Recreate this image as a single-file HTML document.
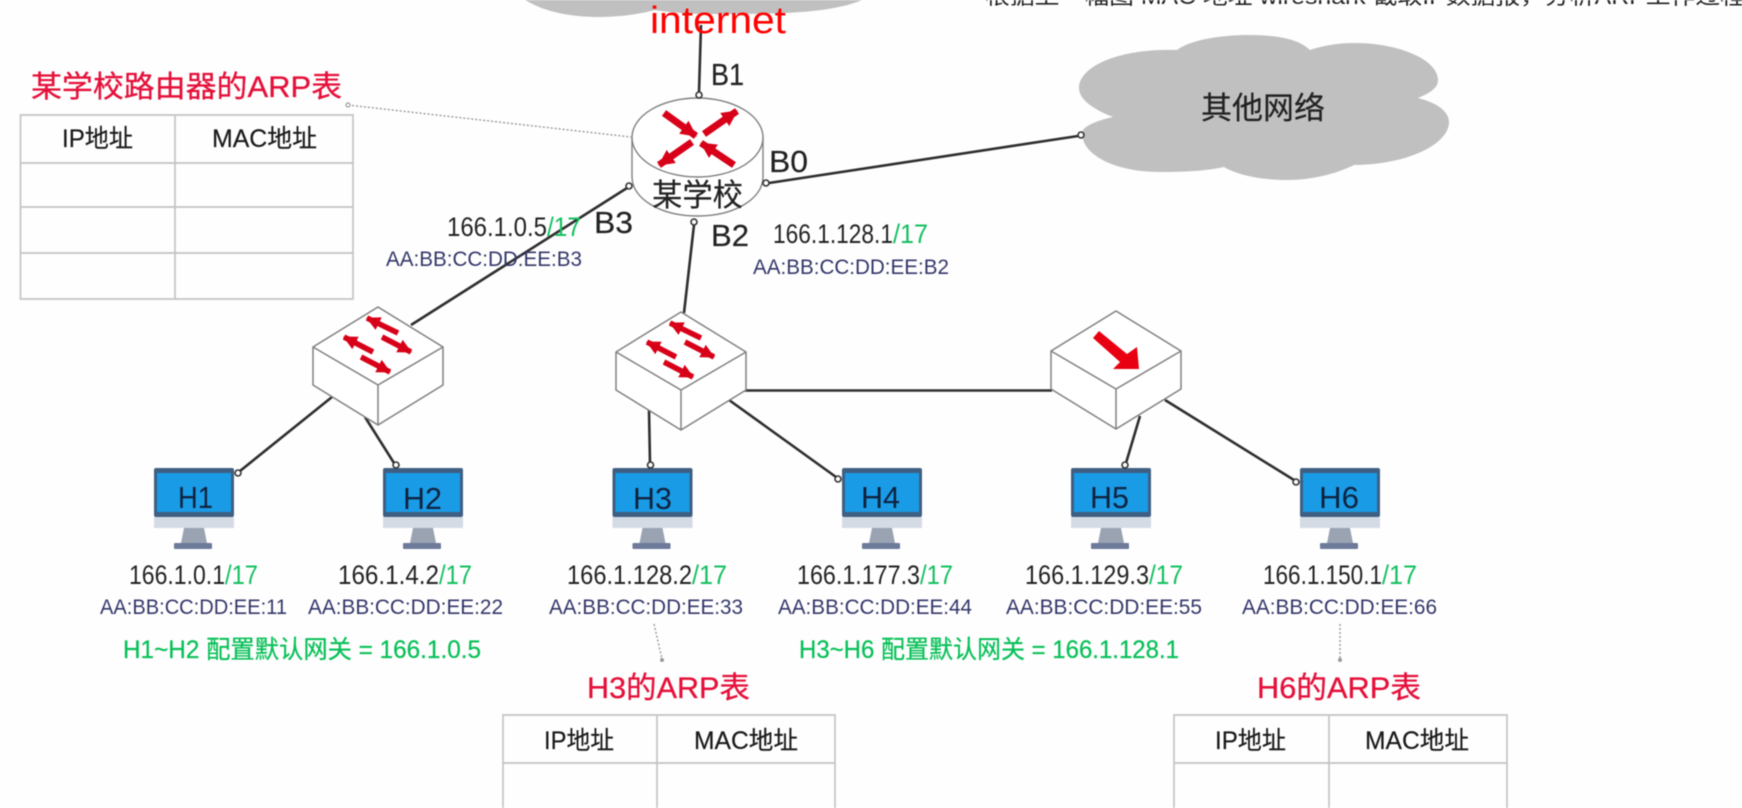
<!DOCTYPE html>
<html lang="zh">
<head>
<meta charset="utf-8">
<title>ARP diagram</title>
<style>
html,body{margin:0;padding:0;background:#fff;width:1742px;height:808px;overflow:hidden}
svg{display:block;filter:blur(.65px)}
text{font-family:"Liberation Sans","Noto Sans CJK SC",sans-serif}
.ip{font-size:27px;fill:#222}
.g{font-size:27px;fill:#14c060}
.mac{font-size:21px;fill:#33366a}
.gw{font-size:25px;fill:#08c058;stroke:#08c058;stroke-width:.25px}
.t{font-size:30px;fill:#e5103a;stroke:#e5103a;stroke-width:.3px}
.th{font-size:25px;fill:#1a1a1a;stroke:#1a1a1a;stroke-width:.2px}
.h{font-size:31px;fill:#0f2340}
.p{font-size:31px;fill:#222;stroke:#222;stroke-width:.2px}
.ln{stroke:#2e2e2e;stroke-width:2.6;fill:none}
.dot{fill:#fff;stroke:#333;stroke-width:1.6}
.tb{stroke:#c4c4c4;stroke-width:1.7;fill:none}
.sw{fill:#fff;stroke:#808080;stroke-width:1.5;stroke-linejoin:round}
.ar{stroke:#d80018;stroke-width:7;marker-end:url(#ah)}
.as{stroke:#d80018;stroke-width:5.5;marker-end:url(#as)}
.dt{stroke:#999;stroke-width:1.4;stroke-dasharray:2 2;fill:none}
</style>
</head>
<body>
<svg width="1742" height="808" viewBox="0 0 1742 808" xmlns="http://www.w3.org/2000/svg">
<defs>
<marker id="ah" markerUnits="userSpaceOnUse" markerWidth="20" markerHeight="20" refX="15" refY="10" orient="auto"><path d="M0,2 L16,10 L0,18 Z" fill="#d80018"/></marker>
<marker id="as" markerUnits="userSpaceOnUse" markerWidth="18" markerHeight="18" refX="13" refY="9" orient="auto"><path d="M0,2 L14,9 L0,16 Z" fill="#d80018"/></marker>
<g id="mon">
<rect x="0" y="0" width="80" height="49" rx="2" fill="#3f5f82"/>
<rect x="3" y="5" width="74" height="39" fill="#1a9be6"/>
<rect x="0" y="49" width="80" height="11" fill="#d5dbe5"/>
<path d="M30,60 H50 L53,75 H27 Z" fill="#9aa3b2"/>
<rect x="20" y="75" width="38" height="6" rx="1" fill="#6d7a9a"/>
</g>
<g id="swb">
<path class="sw" d="M-65,0 L0,-40 L65,0 V38 L0,78 L-65,38 Z"/>
<path class="sw" d="M-65,0 L0,38 L65,0 M0,38 V78" fill="none"/>
</g>
</defs>

<rect width="1742" height="808" fill="#fefefe"/>

<!-- top text -->
<text x="985" y="4" font-size="22" fill="#222" textLength="760" lengthAdjust="spacingAndGlyphs">根据上一幅图 MAC 地址 wireshark 截取IP数据报，分析ARP工作过程</text>

<!-- clouds -->
<path d="M525,0 C545,12 570,17 600,17 C620,17 640,14 655,10 C680,14 700,14 720,14 C770,14 830,14 862,0 Z" fill="#c0c0c0"/>
<path d="M1113,117 C1090,108 1079,98 1079,88 C1079,66 1120,48 1177,50 C1190,40 1220,35 1249,35 C1280,35 1300,40 1310,50 C1325,45 1340,43 1354,43 C1400,43 1438,60 1438,80 C1438,88 1430,93 1418,98 C1438,103 1449,112 1449,122 C1449,145 1405,165 1354,165 C1340,172 1315,180 1288,180 C1260,180 1238,175 1224,167 C1205,171 1185,172 1160,172 C1115,172 1082,155 1082,133 C1082,127 1095,121 1113,117 Z" fill="#c0c0c0"/>
<text class="p" x="1201" y="119" textLength="124" lengthAdjust="spacingAndGlyphs">其他网络</text>

<!-- connectors -->
<path class="ln" d="M701,25 L699,92"/>
<path class="ln" d="M627,188 L411,325"/>
<path class="ln" d="M694,225 L684,313"/>
<path class="ln" d="M769,183 L1078,136"/>
<path class="ln" d="M744,390.500 H1052"/>
<path class="ln" d="M332,397 L240,471"/>
<path class="ln" d="M365,417 L394,463"/>
<path class="ln" d="M649,410 L650,463"/>
<path class="ln" d="M729,400 L836,477"/>
<path class="ln" d="M1140,416 L1126,463"/>
<path class="ln" d="M1165,400 L1294,480"/>

<!-- router -->
<path d="M632,137 V177 C632,199 661,216 697.500,216 C734,216 763,199 763,177 V137" fill="#fff" stroke="#808080" stroke-width="1.4"/>
<ellipse cx="697.500" cy="137.500" rx="65.500" ry="39.500" fill="#fff" stroke="#808080" stroke-width="1.4"/>
<line class="ar" x1="664" y1="113" x2="696" y2="136"/>
<line class="ar" x1="704" y1="134" x2="737" y2="111"/>
<line class="ar" x1="692" y1="142" x2="659" y2="165"/>
<line class="ar" x1="734" y1="165" x2="701" y2="143"/>
<text class="p" x="652" y="206" textLength="91" lengthAdjust="spacingAndGlyphs">某学校</text>

<circle class="dot" cx="699" cy="95" r="3"/>
<circle class="dot" cx="629" cy="186" r="3"/>
<circle class="dot" cx="766" cy="183" r="3"/>
<circle class="dot" cx="694" cy="222" r="3"/>
<circle class="dot" cx="1081" cy="135" r="3"/>

<!-- switches -->
<use href="#swb" x="378" y="347"/>
<line class="as" x1="398" y1="333" x2="367" y2="318"/>
<line class="as" x1="382" y1="337" x2="411" y2="352"/>
<line class="as" x1="373" y1="352" x2="344" y2="337"/>
<line class="as" x1="361" y1="357" x2="390" y2="372"/>

<use href="#swb" x="681" y="352"/>
<line class="as" x1="701" y1="338" x2="670" y2="323"/>
<line class="as" x1="685" y1="342" x2="714" y2="357"/>
<line class="as" x1="676" y1="357" x2="647" y2="342"/>
<line class="as" x1="664" y1="362" x2="693" y2="377"/>

<use href="#swb" x="1116" y="351"/>
<path d="M1093,338 L1099,331 L1127,354 L1137,347 L1139,369 L1113,369 L1120,362 Z" fill="#e80012"/>

<!-- monitors -->
<use href="#mon" x="154" y="468"/>
<use href="#mon" x="383" y="468"/>
<use href="#mon" x="612.500" y="468"/>
<use href="#mon" x="842" y="468"/>
<use href="#mon" x="1071" y="468"/>
<use href="#mon" x="1300" y="468"/>
<circle class="dot" cx="238" cy="473" r="3"/>
<circle class="dot" cx="396" cy="465" r="3"/>
<circle class="dot" cx="650.500" cy="465" r="3"/>
<circle class="dot" cx="838" cy="479" r="3"/>
<circle class="dot" cx="1125" cy="465" r="3"/>
<circle class="dot" cx="1296" cy="482" r="3"/>
<text class="h" x="178" y="508" textLength="35" lengthAdjust="spacingAndGlyphs">H1</text>
<text class="h" x="403" y="509" textLength="39" lengthAdjust="spacingAndGlyphs">H2</text>
<text class="h" x="633" y="509" textLength="39" lengthAdjust="spacingAndGlyphs">H3</text>
<text class="h" x="861" y="508" textLength="39" lengthAdjust="spacingAndGlyphs">H4</text>
<text class="h" x="1090" y="508" textLength="39" lengthAdjust="spacingAndGlyphs">H5</text>
<text class="h" x="1319" y="508" textLength="40" lengthAdjust="spacingAndGlyphs">H6</text>

<!-- interface labels -->
<text class="p" x="711" y="85" textLength="33" lengthAdjust="spacingAndGlyphs">B1</text>
<text class="p" x="769" y="172" textLength="39" lengthAdjust="spacingAndGlyphs">B0</text>
<text class="p" x="594" y="233" textLength="39" lengthAdjust="spacingAndGlyphs">B3</text>
<text class="p" x="711" y="246" textLength="38" lengthAdjust="spacingAndGlyphs">B2</text>

<!-- addresses -->
<text class="ip" x="447" y="236" textLength="100" lengthAdjust="spacingAndGlyphs">166.1.0.5</text><text class="g" x="547" y="236" textLength="34" lengthAdjust="spacingAndGlyphs">/17</text>
<text class="mac" x="386" y="266" textLength="196" lengthAdjust="spacingAndGlyphs">AA:BB:CC:DD:EE:B3</text>
<text class="ip" x="773" y="243" textLength="120" lengthAdjust="spacingAndGlyphs">166.1.128.1</text><text class="g" x="893" y="243" textLength="35" lengthAdjust="spacingAndGlyphs">/17</text>
<text class="mac" x="753" y="274" textLength="196" lengthAdjust="spacingAndGlyphs">AA:BB:CC:DD:EE:B2</text>

<text class="ip" x="129" y="584" textLength="96" lengthAdjust="spacingAndGlyphs">166.1.0.1</text><text class="g" x="225" y="584" textLength="33" lengthAdjust="spacingAndGlyphs">/17</text>
<text class="ip" x="338" y="584" textLength="101" lengthAdjust="spacingAndGlyphs">166.1.4.2</text><text class="g" x="439" y="584" textLength="33" lengthAdjust="spacingAndGlyphs">/17</text>
<text class="ip" x="567" y="584" textLength="125" lengthAdjust="spacingAndGlyphs">166.1.128.2</text><text class="g" x="692" y="584" textLength="35" lengthAdjust="spacingAndGlyphs">/17</text>
<text class="ip" x="797" y="584" textLength="123" lengthAdjust="spacingAndGlyphs">166.1.177.3</text><text class="g" x="920" y="584" textLength="33" lengthAdjust="spacingAndGlyphs">/17</text>
<text class="ip" x="1025" y="584" textLength="124" lengthAdjust="spacingAndGlyphs">166.1.129.3</text><text class="g" x="1149" y="584" textLength="34" lengthAdjust="spacingAndGlyphs">/17</text>
<text class="ip" x="1263" y="584" textLength="119" lengthAdjust="spacingAndGlyphs">166.1.150.1</text><text class="g" x="1382" y="584" textLength="35" lengthAdjust="spacingAndGlyphs">/17</text>

<text class="mac" x="100" y="614" textLength="187" lengthAdjust="spacingAndGlyphs">AA:BB:CC:DD:EE:11</text>
<text class="mac" x="308" y="614" textLength="195" lengthAdjust="spacingAndGlyphs">AA:BB:CC:DD:EE:22</text>
<text class="mac" x="549" y="614" textLength="194" lengthAdjust="spacingAndGlyphs">AA:BB:CC:DD:EE:33</text>
<text class="mac" x="778" y="614" textLength="194" lengthAdjust="spacingAndGlyphs">AA:BB:CC:DD:EE:44</text>
<text class="mac" x="1006" y="614" textLength="196" lengthAdjust="spacingAndGlyphs">AA:BB:CC:DD:EE:55</text>
<text class="mac" x="1242" y="614" textLength="195" lengthAdjust="spacingAndGlyphs">AA:BB:CC:DD:EE:66</text>

<text class="gw" x="123" y="658" textLength="358" lengthAdjust="spacingAndGlyphs">H1~H2 配置默认网关 = 166.1.0.5</text>
<text class="gw" x="799" y="658" textLength="380" lengthAdjust="spacingAndGlyphs">H3~H6 配置默认网关 = 166.1.128.1</text>

<!-- dotted leaders -->
<path class="dt" d="M348,105 L631,137"/>
<circle cx="348" cy="105" r="2" fill="#fff" stroke="#888"/>
<path class="dt" d="M654,624 L662,659"/>
<circle cx="662" cy="660" r="2" fill="#999"/>
<path class="dt" d="M1340,624 V659"/>
<circle cx="1340" cy="660" r="2" fill="#999"/>

<!-- router table -->
<text class="t" x="31" y="97" textLength="311" lengthAdjust="spacingAndGlyphs">某学校路由器的ARP表</text>
<path class="tb" d="M20.500,115 H353 V299 H20.500 Z M175,115 V299 M20.500,163 H353 M20.500,207 H353 M20.500,253 H353"/>
<text class="th" x="62" y="147" textLength="71" lengthAdjust="spacingAndGlyphs">IP地址</text>
<text class="th" x="212" y="147" textLength="105" lengthAdjust="spacingAndGlyphs">MAC地址</text>

<!-- H3 table -->
<text class="t" x="587" y="698" textLength="163" lengthAdjust="spacingAndGlyphs">H3的ARP表</text>
<path class="tb" d="M503,810 V715 H835 V810 M657,715 V810 M503,763 H835"/>
<text class="th" x="544" y="749" textLength="70" lengthAdjust="spacingAndGlyphs">IP地址</text>
<text class="th" x="694" y="749" textLength="104" lengthAdjust="spacingAndGlyphs">MAC地址</text>

<!-- H6 table -->
<text class="t" x="1257" y="698" textLength="164" lengthAdjust="spacingAndGlyphs">H6的ARP表</text>
<path class="tb" d="M1174,810 V715 H1507 V810 M1329,715 V810 M1174,763 H1507"/>
<text class="th" x="1215" y="749" textLength="71" lengthAdjust="spacingAndGlyphs">IP地址</text>
<text class="th" x="1365" y="749" textLength="104" lengthAdjust="spacingAndGlyphs">MAC地址</text>

<!-- internet label -->
<text x="650" y="33" font-size="38" fill="#ff0000" textLength="136" lengthAdjust="spacingAndGlyphs">internet</text>
</svg>
</body>
</html>
